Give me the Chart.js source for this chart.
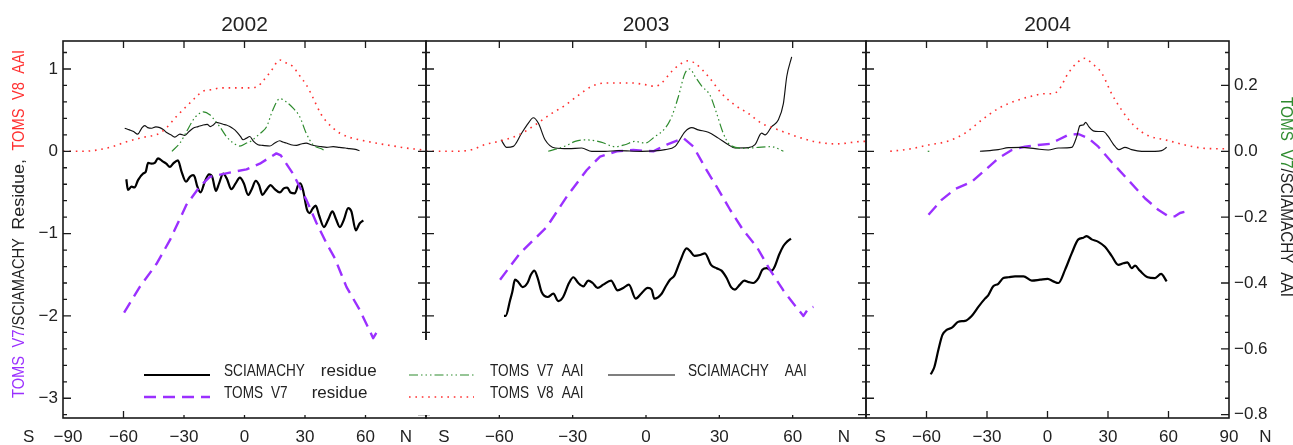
<!DOCTYPE html>
<html>
<head>
<meta charset="utf-8">
<script src="https://cdn.jsdelivr.net/npm/chart.js@4.4.0/dist/chart.umd.min.js"></script>
<style>
html,body{margin:0;padding:0;background:#fff;}
#wrap{position:relative;width:1293px;height:445px;background:#fff;}
#wrap canvas{position:absolute;left:0;top:0;}
</style>
</head>
<body>
<div id="wrap">
<canvas id="c3" width="1293" height="445"></canvas>
<canvas id="c2" width="1293" height="445"></canvas>
<canvas id="c1" width="1293" height="445"></canvas>
</div>
<script>
// ---------------- DATA ----------------
const years = ['2002', '2003', '2004'];

const leftTickValues = [1, 0, -1, -2, -3];
const leftTickLabels = ['1', '0', '\u22121', '\u22122', '\u22123'];
const rightTickValues = [0.2, 0, -0.2, -0.4, -0.6, -0.8];
const rightTickLabels = ['0.2', '0.0', '\u22120.2', '\u22120.4', '\u22120.6', '\u22120.8'];
const xMajorTicks = [-60, -30, 0, 30, 60];

const xLabelVals2002 = [-107, -87.5, -60, -30, 0, 30, 60, 80];
const xLabelText2002 = ['S', '\u221290', '\u221260', '\u221230', '0', '30', '60', 'N'];
const xLabelVals2003 = [-82.7, -60, -30, 0, 30, 60, 81];
const xLabelText2003 = ['S', '\u221260', '\u221230', '0', '30', '60', 'N'];
const xLabelVals2004 = [-83, -60, -30, 0, 30, 60, 90, 108];
const xLabelText2004 = ['S', '\u221260', '\u221230', '0', '30', '60', '90', 'N'];

const legendLabels = ['SCIAMACHY  residue', 'TOMS V7   residue', 'TOMS V7 AAI', 'TOMS V8 AAI', 'SCIAMACHY  AAI'];

// 2002
const sciaRes02Lat = [-58.6,-57.8,-56,-54.5,-52.8,-50.3,-49,-47.8,-46.2,-44.5,-42.9,-40.4,-38.8,-37,-35.4,-33,-31.3,-29,-27.1,-25.5,-24.7,-23.5,-21.8,-19.7,-17.6,-16,-14.2,-12.6,-10.6,-8.8,-6.5,-4.4,-2.3,-0.3,1.8,3.4,5.6,7.2,8.9,10.8,12.9,15,17.5,19.5,21.2,22.8,25,26.6,27.7,29,31,32.4,33.7,35.3,37,39.4,41.5,43.6,45.3,47.3,49.3,51.4,53,55.2,57,58.9];
const sciaRes02Val = [-0.34,-0.47,-0.43,-0.44,-0.35,-0.27,-0.25,-0.14,-0.15,-0.14,-0.085,-0.125,-0.15,-0.19,-0.15,-0.11,-0.24,-0.37,-0.31,-0.29,-0.31,-0.42,-0.5,-0.37,-0.28,-0.31,-0.48,-0.39,-0.27,-0.33,-0.46,-0.39,-0.32,-0.39,-0.53,-0.47,-0.36,-0.41,-0.53,-0.47,-0.41,-0.46,-0.5,-0.45,-0.44,-0.5,-0.51,-0.41,-0.39,-0.47,-0.71,-0.75,-0.7,-0.66,-0.78,-0.92,-0.83,-0.73,-0.82,-0.92,-0.83,-0.69,-0.73,-0.96,-0.88,-0.84];
const tomsRes02Lat = [-59.7,-52,-43.7,-37,-28.8,-22.2,-17.2,-5.7,1,7.6,15.8,18,24,30.7,35.7,40.7,44.8,50.6,57.2,63.8,65,66.3];
const tomsRes02Val = [-1.96,-1.65,-1.37,-1.08,-0.65,-0.43,-0.31,-0.25,-0.22,-0.15,-0.025,-0.05,-0.27,-0.59,-0.87,-1.12,-1.3,-1.65,-1.93,-2.27,-2.22,-2.17];
const toms8Aai02Lat = [-90,-80,-72,-65,-58,-50,-42,-38.5,-33.5,-29,-24,-20.7,-16,-12,-5,0,6,9,13,17.5,21,24,27,30.6,33,35.7,38,40.7,44,47.3,52,57,65,73.7,80,87,90];
const toms8Aai02Val = [0,0,0.02,0.06,0.12,0.17,0.22,0.29,0.43,0.54,0.66,0.73,0.75,0.77,0.77,0.77,0.78,0.85,0.97,1.11,1.07,1.03,0.93,0.81,0.7,0.56,0.45,0.36,0.28,0.22,0.17,0.14,0.1,0.065,0.04,0.02,0.01];
const toms7Aai02Lat = [-36,-32,-28.5,-25.5,-23,-20.5,-17,-14.5,-12.3,-9,-5.5,-2.3,1,3.5,6,8.5,11,14,17.5,20.7,24,27.4,30.6,34,39,40];
const toms7Aai02Val = [0,0.025,0.0625,0.095,0.112,0.12,0.11,0.092,0.075,0.045,0.025,0.016,0.025,0.032,0.045,0.058,0.075,0.125,0.16,0.15,0.132,0.105,0.055,0.02,0.005,0];
const sciaAai02Lat = [-59.4,-57,-55,-53,-51,-49.5,-48,-46,-44,-42,-40,-38.8,-36.5,-34.6,-32,-29.6,-27.5,-25.5,-23,-20.5,-18.5,-17,-15.5,-14,-12,-10.6,-9,-7.3,-5.5,-4,-2,-0.7,1,2.6,4.5,6.7,9,12.6,15,17.5,19,20.7,23,25.8,28,30.6,33,35.7,38,40.7,44,47,50,52,55,57];
const sciaAai02Val = [0.07,0.065,0.06,0.052,0.07,0.078,0.072,0.07,0.074,0.072,0.065,0.058,0.05,0.043,0.052,0.048,0.06,0.07,0.075,0.08,0.082,0.075,0.08,0.088,0.085,0.082,0.08,0.075,0.068,0.06,0.045,0.035,0.04,0.045,0.03,0.02,0.018,0.016,0.025,0.032,0.028,0.025,0.02,0.018,0.022,0.025,0.02,0.016,0.014,0.012,0.014,0.012,0.01,0.008,0.006,0.002];

// 2003
const sciaRes03Lat = [-58.1,-57.4,-55.6,-54.7,-53.6,-52.2,-50.5,-48.5,-47.1,-45.7,-44.3,-42.7,-40.2,-37.9,-35.9,-33.9,-31.5,-29.7,-27.7,-25.6,-23.6,-21.8,-19.8,-17.5,-14.3,-11.6,-9.3,-7,-4.2,-2,0.7,2.3,3.4,6.4,8.1,9.8,11.6,13.9,16.6,18,19.8,22.1,24.1,26.6,28.9,30.9,33,34.8,36.4,38.4,40.2,42.1,43.8,46,47.6,49.4,51.4,52.8,54.4,56.2,57.6,59.3];
const sciaRes03Val = [-2.0,-2.0,-1.81,-1.71,-1.56,-1.59,-1.65,-1.6,-1.5,-1.45,-1.54,-1.71,-1.77,-1.73,-1.82,-1.77,-1.6,-1.53,-1.6,-1.64,-1.57,-1.6,-1.66,-1.62,-1.57,-1.69,-1.66,-1.62,-1.79,-1.73,-1.66,-1.68,-1.79,-1.73,-1.64,-1.56,-1.51,-1.34,-1.18,-1.21,-1.27,-1.26,-1.24,-1.38,-1.42,-1.45,-1.54,-1.65,-1.68,-1.62,-1.57,-1.59,-1.6,-1.54,-1.44,-1.42,-1.45,-1.39,-1.26,-1.15,-1.1,-1.06];
const tomsRes03Lat = [-59.7,-51.6,-40.6,-32.4,-24.3,-18.8,-12,-5.2,3,8.5,15.3,19.4,24.8,28.9,34.4,39.8,45.3,50.7,56.2,60.3,64.4,66.4,68.5];
const tomsRes03Val = [-1.56,-1.24,-0.92,-0.55,-0.23,-0.065,0,0.015,0,0.08,0.16,0.056,-0.23,-0.43,-0.71,-0.96,-1.16,-1.44,-1.69,-1.85,-2.0,-1.91,-1.89];
const toms8Aai03Lat = [-90,-86,-78,-71.3,-66,-59,-52,-45.4,-38.6,-33,-27.7,-22.2,-16.8,-5.9,-0.4,3.7,6.4,10.5,14.6,17.3,20,25.5,31,36.4,41.9,47.3,54.1,59.6,63.7,68.5,78,89,90];
const toms8Aai03Val = [0,0,0,0.02,0.08,0.13,0.2,0.32,0.46,0.56,0.68,0.79,0.83,0.83,0.81,0.79,0.83,0.97,1.07,1.1,1.07,0.91,0.7,0.56,0.46,0.34,0.26,0.2,0.16,0.12,0.09,0.12,0.12];
const toms7Aai03Lat = [-40,-33,-29,-25,-18.4,-12.7,-8.6,-4.5,-0.4,3.7,7.8,10.5,13.2,16,18,20,22.8,26.2,28.9,31.6,34.4,40.5,46,51.4,56.2];
const toms7Aai03Val = [0,0.016,0.03,0.035,0.028,0.014,0.02,0.03,0.025,0.045,0.07,0.105,0.165,0.238,0.25,0.228,0.198,0.17,0.115,0.055,0.019,0.009,0.012,0.014,0];
const sciaAai03Lat = [-59.3,-57,-54.3,-50.9,-48.2,-46.1,-44,-41.3,-37.2,-31.7,-26.3,-22.2,-16.8,-11.3,-1.7,7.8,11.9,16,18.7,21.4,25.5,29.6,33.7,36.4,41.9,44.6,47.3,48.7,51.4,54.1,56.2,57.6,59.6];
const sciaAai03Val = [0.035,0.012,0.015,0.055,0.085,0.102,0.085,0.035,0.01,0.008,0.01,0,0,0.002,0,0.005,0.015,0.06,0.072,0.065,0.058,0.04,0.02,0.01,0.011,0.02,0.055,0.05,0.075,0.095,0.145,0.228,0.287];

// 2004
const sciaRes04Lat = [-57.9,-56.1,-54.1,-52.1,-50,-47.2,-44.2,-40.9,-37.6,-34.3,-31,-29.4,-26.9,-24.4,-21.9,-19.4,-16.1,-11.9,-7.8,-3.7,0.1,2.9,5.4,8.7,12,15.3,17.8,19.4,21.9,25.2,28.5,31.8,35.1,37.6,39.7,41.7,43.4,45.8,49.7,53.3,56.3,59.1];
const sciaRes04Val = [-2.71,-2.62,-2.41,-2.23,-2.17,-2.14,-2.07,-2.06,-2.0,-1.89,-1.79,-1.75,-1.64,-1.61,-1.54,-1.53,-1.52,-1.52,-1.57,-1.56,-1.55,-1.58,-1.6,-1.44,-1.24,-1.07,-1.05,-1.03,-1.07,-1.1,-1.16,-1.27,-1.38,-1.36,-1.35,-1.42,-1.39,-1.45,-1.53,-1.54,-1.49,-1.58];
const tomsRes04Lat = [-59,-52.5,-45.9,-37.6,-31,-24.4,-17.7,-11.2,-4.6,1.2,5.4,10.3,15.3,20.2,25.2,31.8,40.1,48.3,54.9,59.9,63.2,65.7,69];
const tomsRes04Val = [-0.77,-0.59,-0.46,-0.37,-0.23,-0.085,0.015,0.056,0.077,0.09,0.14,0.2,0.21,0.16,0.056,-0.13,-0.35,-0.57,-0.71,-0.79,-0.79,-0.75,-0.73];
const toms8Aai04Lat = [-78,-69,-59,-49.2,-40.9,-32.6,-24.4,-16.1,-7.8,-1.2,2.1,5.4,10.3,15.3,18.6,21.9,26.9,31.8,36.8,43.4,50,58.3,68.2,78,88];
const toms8Aai04Val = [0,0.025,0.077,0.125,0.22,0.38,0.52,0.61,0.67,0.7,0.7,0.74,0.95,1.09,1.13,1.07,0.95,0.7,0.5,0.3,0.19,0.14,0.077,0.036,0.03];
const toms7Aai04Lat = [-59.4,-58.6];
const toms7Aai04Val = [0, 0];
const sciaAai04Lat = [-33.5,-24.4,-19.4,-12.8,-6.2,0.4,5.4,12,14.5,16.1,17.8,18.9,20.5,22.7,25.2,27.6,30.1,32.6,35.4,38.4,41.7,46.7,53.3,56.6,59.1];
const sciaAai04Val = [0,0.005,0.011,0.012,0.008,0.004,0.01,0.012,0.045,0.078,0.08,0.088,0.075,0.062,0.06,0.06,0.045,0.022,0.005,0.012,0.005,0,0,0.002,0.012];

// ---------------- STYLES / HELPERS ----------------
const FONT = '"Liberation Sans", Arial, Helvetica, sans-serif';
const TXT = '#222';
const C_PURPLE = '#9B30FF', C_RED = '#FF3030', C_GREEN = '#2E8B2E', C_BLACK = '#000';

function pts(lat, val) { return lat.map((x, i) => ({ x: x, y: val[i] })); }

function styleFor(kind) {
  switch (kind) {
    case 'sciaRes': return { borderColor: C_BLACK, borderWidth: 2.2, borderDash: [], yAxisID: 'yL', cubicInterpolationMode: 'monotone' };
    case 'tomsRes': return { borderColor: C_PURPLE, borderWidth: 2.4, borderDash: [12, 7], yAxisID: 'yL', tension: 0 };
    case 'toms7Aai': return { borderColor: C_GREEN, borderWidth: 1.2, borderDash: [9, 3, 1.5, 3, 1.5, 3, 1.5, 3], yAxisID: 'yR', cubicInterpolationMode: 'monotone' };
    case 'toms8Aai': return { borderColor: C_RED, borderWidth: 1.6, borderDash: [1.6, 4.8], yAxisID: 'yL', cubicInterpolationMode: 'monotone' };
    case 'sciaAai': return { borderColor: '#111', borderWidth: 1.15, borderDash: [], yAxisID: 'yR', cubicInterpolationMode: 'monotone' };
  }
}

function ds(label, kind, lat, val) {
  return Object.assign({ label: label, data: pts(lat, val), fill: false, pointRadius: 0, borderCapStyle: 'butt', borderJoinStyle: 'round' }, styleFor(kind));
}

function drawRich(ctx, segs, x, y, size, gap, doDraw, capScale) {
  const cs = capScale || 0.8;
  ctx.font = size + 'px ' + FONT;
  ctx.textBaseline = 'middle';
  ctx.textAlign = 'left';
  let cx = x;
  for (const seg of segs) {
    const toks = seg.text.split(' ');
    toks.forEach((w, i) => {
      if (i > 0) cx += gap;
      if (w === '') return;
      const s = /[a-z]/.test(w) ? 1 : cs;
      const wd = ctx.measureText(w).width * s;
      if (doDraw) {
        ctx.save();
        ctx.fillStyle = seg.color;
        ctx.translate(cx, y);
        ctx.scale(s, 1);
        ctx.fillText(w, 0, 0);
        ctx.restore();
      }
      cx += wd;
    });
  }
  return cx - x;
}

function drawRotated(ctx, segs, cx, cy, angle, size, gap, targetLen) {
  const w = drawRich(ctx, segs, 0, 0, size, gap, false, 0.82);
  const k = targetLen / w;
  ctx.save();
  ctx.translate(cx, cy);
  ctx.rotate(angle);
  ctx.scale(k, 1);
  drawRich(ctx, segs, -w / 2, 0, size, gap, true, 0.82);
  ctx.restore();
}

const framePlugin = {
  id: 'frame',
  afterDatasetsDraw(chart, args, o) {
    const ctx = chart.ctx, a = chart.chartArea;
    const x = chart.scales.x, yl = chart.scales.yL, yr = chart.scales.yR;
    ctx.save();
    // ticks
    ctx.strokeStyle = '#1a1a1a';
    ctx.lineWidth = 1.3;
    ctx.beginPath();
    for (const v of xMajorTicks) {
      const px = x.getPixelForValue(v);
      ctx.moveTo(px, a.top); ctx.lineTo(px, a.top + 7);
      ctx.moveTo(px, a.bottom); ctx.lineTo(px, a.bottom - 7);
    }
    for (let k = -17; k <= 7; k++) {
      const v = k * 0.2;
      if (v < yl.min - 1e-9 || v > yl.max + 1e-9) continue;
      const py = yl.getPixelForValue(v);
      const len = (k % 5 === 0) ? 8 : 4;
      ctx.moveTo(a.left, py); ctx.lineTo(a.left + len, py);
    }
    for (let k = -17; k <= 7; k++) {
      const v = k * 0.05;
      if (v < yr.min - 1e-9 || v > yr.max + 1e-9) continue;
      const py = yr.getPixelForValue(v);
      const len = (k % 4 === 0) ? 8 : 4;
      ctx.moveTo(a.right, py); ctx.lineTo(a.right - len, py);
    }
    ctx.stroke();
    // frame
    ctx.lineWidth = 1.6;
    ctx.strokeRect(a.left, a.top, a.right - a.left, a.bottom - a.top);

    ctx.fillStyle = TXT;
    ctx.textBaseline = 'middle';
    // title
    ctx.font = '21px ' + FONT;
    ctx.textAlign = 'center';
    ctx.fillText(o.title, (a.left + a.right) / 2, 25);
    // x labels
    ctx.font = '17px ' + FONT;
    o.xVals.forEach((v, i) => {
      ctx.fillText(o.xText[i], x.getPixelForValue(v), 437);
    });
    if (o.leftLabels) {
      ctx.textAlign = 'right';
      leftTickValues.forEach((v, i) => ctx.fillText(leftTickLabels[i], a.left - 5, yl.getPixelForValue(v)));
      drawRotated(ctx, [
        { text: 'TOMS V7', color: C_PURPLE },
        { text: '/SCIAMACHY Residue, ', color: TXT },
        { text: 'TOMS V8 AAI', color: C_RED }
      ], 19, 224, -Math.PI / 2, 17, 8, 348);
    }
    if (o.rightLabels) {
      ctx.textAlign = 'left';
      ctx.font = '17px ' + FONT;
      ctx.fillStyle = TXT;
      rightTickValues.forEach((v, i) => ctx.fillText(rightTickLabels[i], a.right + 5, yr.getPixelForValue(v)));
      drawRotated(ctx, [
        { text: 'TOMS V7', color: C_GREEN },
        { text: '/SCIAMACHY AAI', color: TXT }
      ], 1286, 197, Math.PI / 2, 17, 8, 200);
    }
    if (o.legend) {
      // legend box
      ctx.fillStyle = '#fff';
      ctx.fillRect(136, 340, 680, 75);
      const dsets = chart.data.datasets;
      const find = (lbl) => dsets.find(d => d.label === lbl);
      const items = [
        { d: find('SCIAMACHY residue'), t: legendLabels[0], x0: 144, x1: 210, tx: 224, y: 372 },
        { d: find('TOMS V7 residue'), t: legendLabels[1], x0: 144, x1: 210, tx: 224, y: 394 },
        { d: find('TOMS V7 AAI'), t: legendLabels[2], x0: 409, x1: 474, tx: 490, y: 372 },
        { d: find('TOMS V8 AAI'), t: legendLabels[3], x0: 409, x1: 474, tx: 490, y: 394 },
        { d: find('SCIAMACHY AAI'), t: legendLabels[4], x0: 608, x1: 675, tx: 688, y: 372 }
      ];
      for (const it of items) {
        ctx.save();
        ctx.strokeStyle = it.d.label === 'SCIAMACHY AAI' ? '#555' : it.d.borderColor;
        ctx.lineWidth = it.d.label === 'SCIAMACHY AAI' ? 1.6 : it.d.borderWidth;
        ctx.setLineDash(it.d.borderDash || []);
        ctx.beginPath();
        ctx.moveTo(it.x0, it.y + 3);
        ctx.lineTo(it.x1, it.y + 3);
        ctx.stroke();
        ctx.restore();
        drawRich(ctx, [{ text: it.t, color: TXT }], it.tx, it.y - 1, 17, 8, true, 0.8);
      }
    }
    ctx.restore();
  }
};

function makeChart(id, year, sets, left, right, extra) {
  return new Chart(document.getElementById(id), {
    type: 'line',
    data: { datasets: sets },
    options: {
      responsive: false,
      animation: false,
      events: [],
      layout: { padding: { left: left, right: 1293 - right, top: 41, bottom: 445 - 418 } },
      scales: {
        x: { type: 'linear', min: -90, max: 90, display: false },
        yL: { type: 'linear', position: 'left', min: -3.24, max: 1.34, display: false },
        yR: { type: 'linear', position: 'right', min: -0.81, max: 0.335, display: false }
      },
      plugins: {
        legend: { display: false },
        tooltip: { enabled: false },
        frame: Object.assign({ title: year }, extra)
      }
    },
    plugins: [framePlugin]
  });
}

makeChart('c3', years[2], [
  ds('TOMS V8 AAI', 'toms8Aai', toms8Aai04Lat, toms8Aai04Val),
  ds('TOMS V7 AAI', 'toms7Aai', toms7Aai04Lat, toms7Aai04Val),
  ds('SCIAMACHY AAI', 'sciaAai', sciaAai04Lat, sciaAai04Val),
  ds('TOMS V7 residue', 'tomsRes', tomsRes04Lat, tomsRes04Val),
  ds('SCIAMACHY residue', 'sciaRes', sciaRes04Lat, sciaRes04Val)
], 866, 1229, { xVals: xLabelVals2004, xText: xLabelText2004, rightLabels: true });

makeChart('c2', years[1], [
  ds('TOMS V8 AAI', 'toms8Aai', toms8Aai03Lat, toms8Aai03Val),
  ds('TOMS V7 AAI', 'toms7Aai', toms7Aai03Lat, toms7Aai03Val),
  ds('SCIAMACHY AAI', 'sciaAai', sciaAai03Lat, sciaAai03Val),
  ds('TOMS V7 residue', 'tomsRes', tomsRes03Lat, tomsRes03Val),
  ds('SCIAMACHY residue', 'sciaRes', sciaRes03Lat, sciaRes03Val)
], 426, 866, { xVals: xLabelVals2003, xText: xLabelText2003 });

makeChart('c1', years[0], [
  ds('TOMS V8 AAI', 'toms8Aai', toms8Aai02Lat, toms8Aai02Val),
  ds('TOMS V7 AAI', 'toms7Aai', toms7Aai02Lat, toms7Aai02Val),
  ds('SCIAMACHY AAI', 'sciaAai', sciaAai02Lat, sciaAai02Val),
  ds('TOMS V7 residue', 'tomsRes', tomsRes02Lat, tomsRes02Val),
  ds('SCIAMACHY residue', 'sciaRes', sciaRes02Lat, sciaRes02Val)
], 63, 426, { xVals: xLabelVals2002, xText: xLabelText2002, leftLabels: true, legend: true });
</script>
</body>
</html>
